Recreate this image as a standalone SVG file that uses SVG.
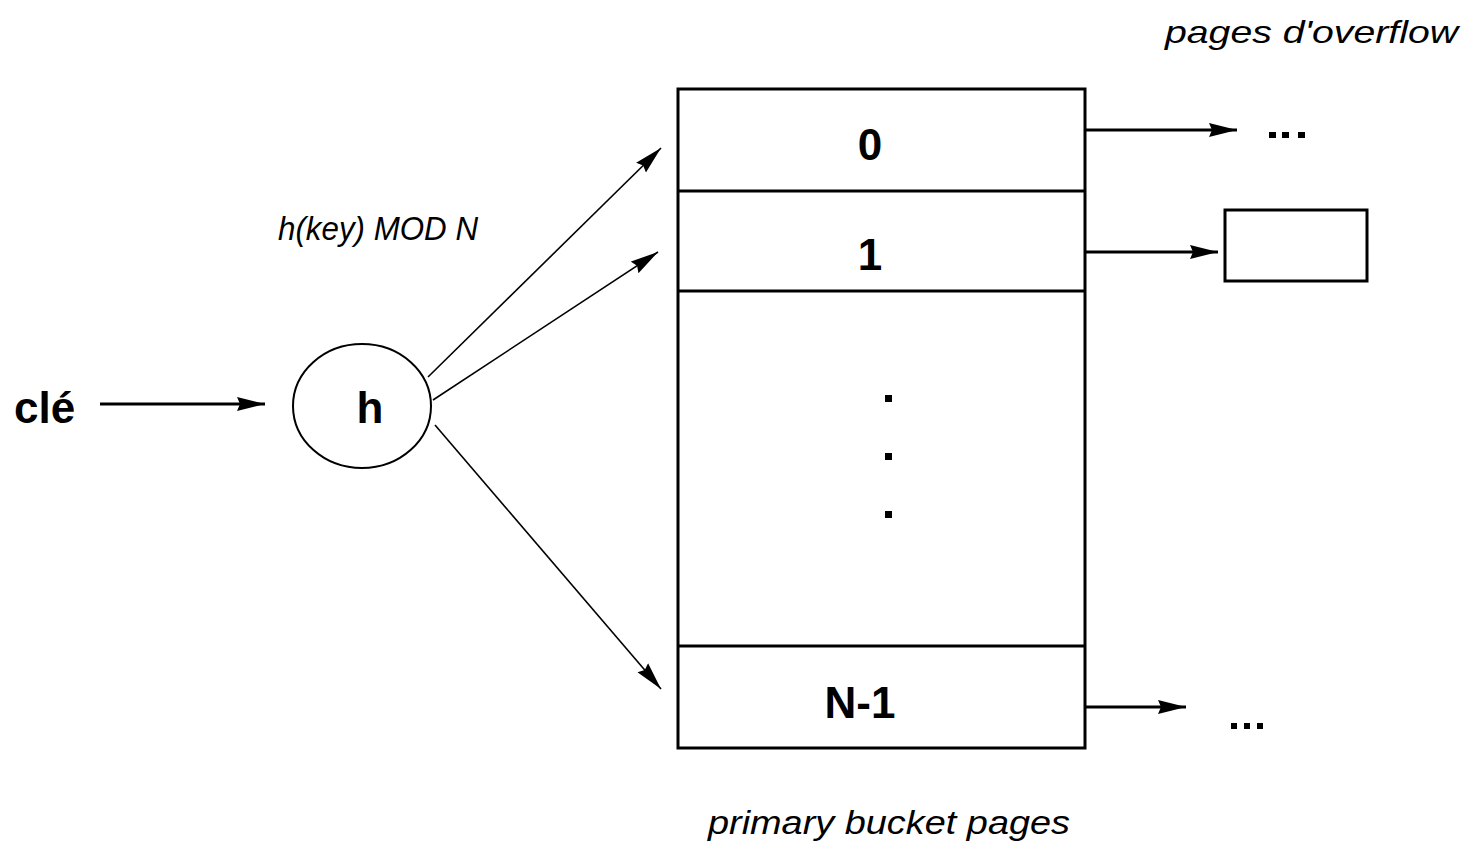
<svg xmlns="http://www.w3.org/2000/svg" width="1465" height="850" viewBox="0 0 1465 850">
<style>
.lbl{font-family:"Liberation Sans",Arial,sans-serif;font-weight:bold;fill:#000}
.it{font-family:"Liberation Sans",Arial,sans-serif;font-style:italic;fill:#000}
.box{fill:#fff;stroke:#000;stroke-width:3}
.thin{stroke:#000;stroke-width:1.6;fill:none}
.thick{stroke:#000;stroke-width:3;fill:none}
</style>
<defs>
<marker id="ah" markerUnits="userSpaceOnUse" markerWidth="30" markerHeight="18" refX="28" refY="8" orient="auto">
<path d="M0,1 L28,8 L0,15 L3,8 Z" fill="#000"/>
</marker>
</defs>
<rect width="1465" height="850" fill="#fff"/>
<text class="it" x="1165" y="43" font-size="32" textLength="293" lengthAdjust="spacingAndGlyphs">pages d'overflow</text>
<text class="it" x="278" y="240" font-size="34" textLength="200" lengthAdjust="spacingAndGlyphs">h(key) MOD N</text>
<text class="it" x="708" y="834" font-size="34" textLength="362" lengthAdjust="spacingAndGlyphs">primary bucket pages</text>
<g id="cle"><text class="lbl" x="14" y="423" font-size="44">clé</text></g>
<g id="h">
<ellipse cx="362" cy="406" rx="69" ry="62" fill="#fff" stroke="#000" stroke-width="2"/>
<text class="lbl" x="370" y="423" font-size="44" text-anchor="middle">h</text>
</g>
<g id="buckets">
<rect class="box" x="678" y="89" width="407" height="659"/>
<line class="thick" x1="678" y1="191" x2="1085" y2="191"/>
<line class="thick" x1="678" y1="291" x2="1085" y2="291"/>
<line class="thick" x1="678" y1="646" x2="1085" y2="646"/>
<text class="lbl" x="870" y="160" font-size="44" text-anchor="middle">0</text>
<text class="lbl" x="870" y="270" font-size="44" text-anchor="middle">1</text>
<text class="lbl" x="860" y="718" font-size="44" text-anchor="middle">N-1</text>
<rect x="885" y="395" width="7" height="7" fill="#000"/>
<rect x="885" y="453" width="7" height="7" fill="#000"/>
<rect x="885" y="511" width="7" height="7" fill="#000"/>
</g>
<g id="overflow">
<rect class="box" x="1225" y="210" width="142" height="71"/>
</g>
<g id="dots">
<rect x="1269" y="132" width="7" height="6" fill="#000"/>
<rect x="1282" y="132" width="7" height="6" fill="#000"/>
<rect x="1298" y="132" width="7" height="6" fill="#000"/>
<rect x="1231" y="723" width="6" height="6" fill="#000"/>
<rect x="1244" y="723" width="6" height="6" fill="#000"/>
<rect x="1257" y="723" width="6" height="6" fill="#000"/>
</g>
<g id="connectors">
<line class="thick" x1="100" y1="404" x2="265" y2="404" marker-end="url(#ah)"/>
<line class="thin" x1="428" y1="377" x2="661" y2="148" marker-end="url(#ah)"/>
<line class="thin" x1="433" y1="400" x2="658" y2="252" marker-end="url(#ah)"/>
<line class="thin" x1="435" y1="425" x2="661" y2="689" marker-end="url(#ah)"/>
<line class="thick" x1="1085" y1="130" x2="1237" y2="130" marker-end="url(#ah)"/>
<line class="thick" x1="1085" y1="252" x2="1218" y2="252" marker-end="url(#ah)"/>
<line class="thick" x1="1085" y1="707" x2="1186" y2="707" marker-end="url(#ah)"/>
</g>
</svg>
